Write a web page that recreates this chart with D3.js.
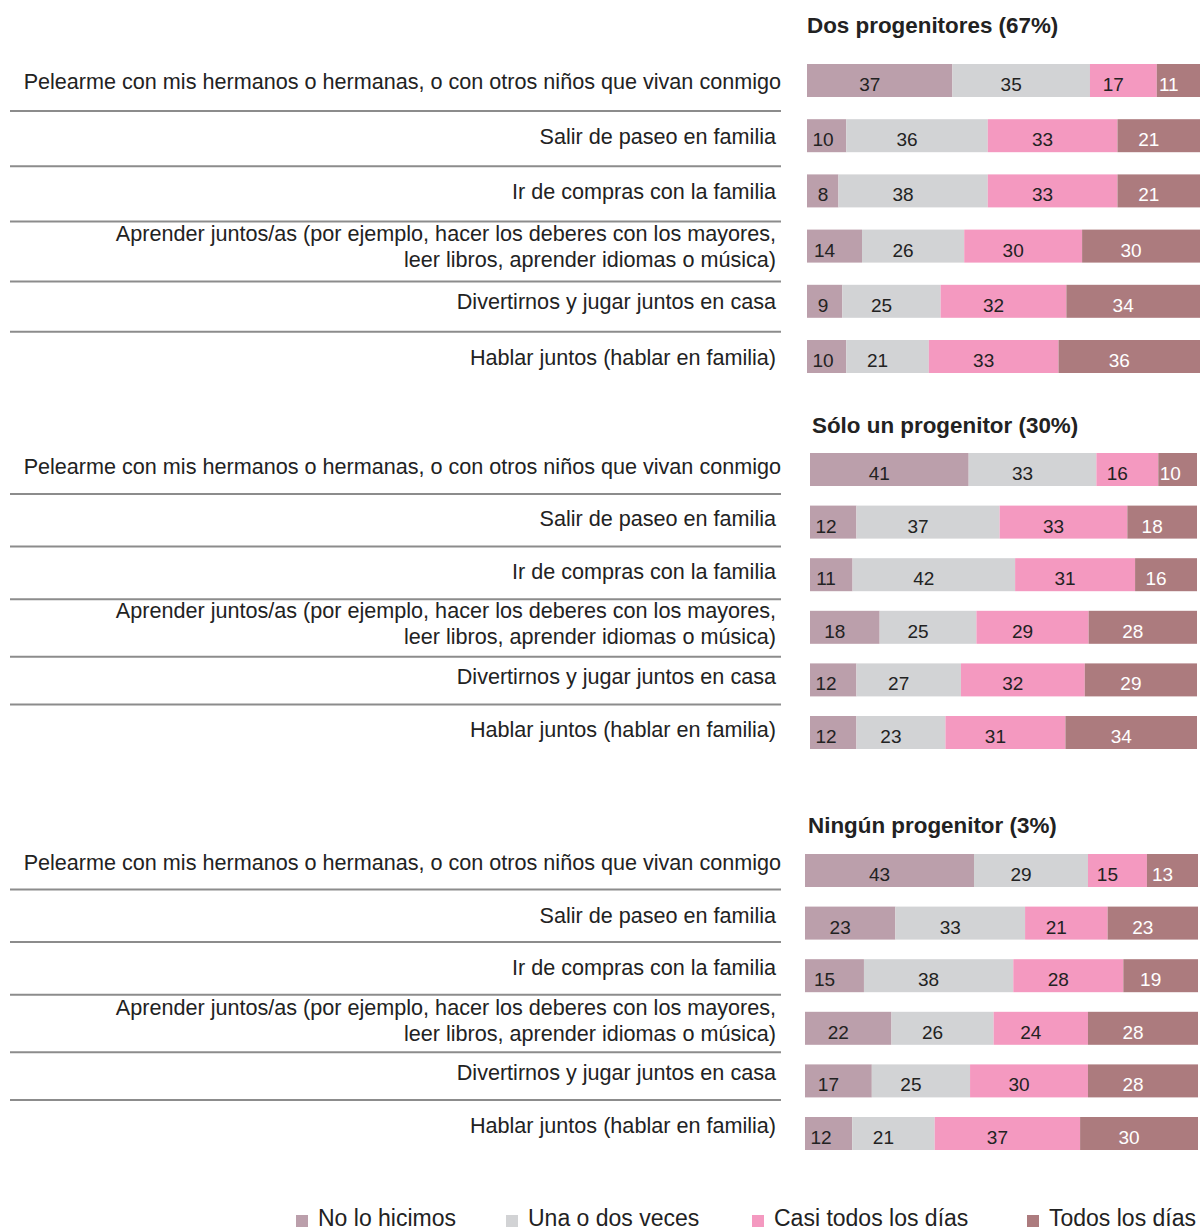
<!DOCTYPE html>
<html>
<head>
<meta charset="utf-8">
<script src="https://cdn.jsdelivr.net/npm/d3@7"></script>
<style>
  body { margin: 0; background: #fff; }
  svg { display: block; font-family: "Liberation Sans", Arial, Helvetica, sans-serif; }
</style>
</head>
<body>
<div id="chart"></div>
<script>
// categories / series
var categories = ["No lo hicimos", "Una o dos veces", "Casi todos los días", "Todos los días"];
var colors = ["#bb9fab", "#d2d3d5", "#f499c0", "#ac7b7e"];

var groupTitles = ["Dos progenitores (67%)", "Sólo un progenitor (30%)", "Ningún progenitor (3%)"];

var activities = [
  ["Pelearme con mis hermanos o hermanas, o con otros niños que vivan conmigo"],
  ["Salir de paseo en familia"],
  ["Ir de compras con la familia"],
  ["Aprender juntos/as (por ejemplo, hacer los deberes con los mayores,", "leer libros, aprender idiomas o música)"],
  ["Divertirnos y jugar juntos en casa"],
  ["Hablar juntos (hablar en familia)"]
];

var dosProgenitores = [[37, 35, 17, 11], [10, 36, 33, 21], [8, 38, 33, 21], [14, 26, 30, 30], [9, 25, 32, 34], [10, 21, 33, 36]];
var unProgenitor    = [[41, 33, 16, 10], [12, 37, 33, 18], [11, 42, 31, 16], [18, 25, 29, 28], [12, 27, 32, 29], [12, 23, 31, 34]];
var ningunProgenitor = [[43, 29, 15, 13], [23, 33, 21, 23], [15, 38, 28, 19], [22, 26, 24, 28], [17, 25, 30, 28], [12, 21, 37, 30]];

var groupData = [dosProgenitores, unProgenitor, ningunProgenitor];

// layout of the three panels
var panels = [
  { x0: 807, x1: 1200, top: 64,  step: 55.2, titleX: 807, titleY: 33,  labelDy: 17, sepDy: 30 },
  { x0: 810, x1: 1197, top: 453, step: 52.6, titleX: 812, titleY: 433, labelDy: 13, sepDy: 28 },
  { x0: 805, x1: 1198, top: 854, step: 52.6, titleX: 808, titleY: 833, labelDy: 8.5, sepDy: 27 }
];
var barH = 33;

var width = 1202, height = 1231;
var svg = d3.select("#chart").append("svg")
  .attr("width", width)
  .attr("height", height);

panels.forEach(function(p, gi) {
  var g = svg.append("g");
  var data = groupData[gi];

  var x = d3.scaleLinear().domain([0, 100]).range([p.x0, p.x1]);
  var y = d3.scaleLinear().domain([0, 1]).range([p.top, p.top + p.step]);

  g.append("text")
    .attr("x", p.titleX)
    .attr("y", p.titleY)
    .attr("font-size", 22.4)
    .attr("font-weight", "bold")
    .attr("fill", "#222")
    .text(groupTitles[gi]);

  data.forEach(function(row, ri) {
    var stacked = [];
    var acc = 0;
    row.forEach(function(v, ci) {
      stacked.push({ start: acc, end: acc + v, value: v, ci: ci });
      acc += v;
    });

    var rg = g.append("g");
    rg.selectAll("rect")
      .data(stacked)
      .join("rect")
      .attr("x", function(d) { return x(d.start); })
      .attr("y", y(ri))
      .attr("width", function(d) { return x(d.end) - x(d.start); })
      .attr("height", barH)
      .attr("fill", function(d) { return colors[d.ci]; });

    // value labels sit a little left of the segment centre
    rg.selectAll("text")
      .data(stacked)
      .join("text")
      .attr("x", function(d) {
        var cx = (x(d.start) + x(d.end)) / 2 - 10;
        var minX = d.ci == 0 ? x(d.start) + 16 : x(d.start) + 12;
        return Math.max(cx, minX);
      })
      .attr("y", y(ri) + 27)
      .attr("text-anchor", "middle")
      .attr("font-size", 19)
      .attr("fill", function(d) { return d.ci == 3 ? "#fff" : "#222"; })
      .text(function(d) { return d.value; });

    // row label
    var lines = activities[ri];
    var center = y(ri) + p.labelDy;
    var right = ri == 0 ? 781 : 776;
    var lt = g.append("text")
      .attr("text-anchor", "end")
      .attr("font-size", 21.6)
      .attr("fill", "#222");
    lines.forEach(function(line, li) {
      lt.append("tspan")
        .attr("x", right)
        .attr("y", center + 7.5 + (li - (lines.length - 1) / 2) * 26)
        .text(line);
    });

    // separator under the label
    if (ri < data.length - 1) {
      var sepY = center + p.sepDy + (lines.length > 1 ? 5 : 0);
      g.append("line")
        .attr("x1", 10).attr("x2", 781)
        .attr("y1", sepY).attr("y2", sepY)
        .attr("stroke", "#8c8c8c")
        .attr("stroke-width", 2);
    }
  });
});

// legend
var legendX = [296, 506, 752, 1027];
var legend = svg.append("g");
categories.forEach(function(c, i) {
  legend.append("rect")
    .attr("x", legendX[i]).attr("y", 1215)
    .attr("width", 12).attr("height", 12)
    .attr("fill", colors[i]);
  legend.append("text")
    .attr("x", legendX[i] + 22)
    .attr("y", 1226)
    .attr("font-size", 23)
    .attr("fill", "#222")
    .text(c);
});
</script>
</body>
</html>
